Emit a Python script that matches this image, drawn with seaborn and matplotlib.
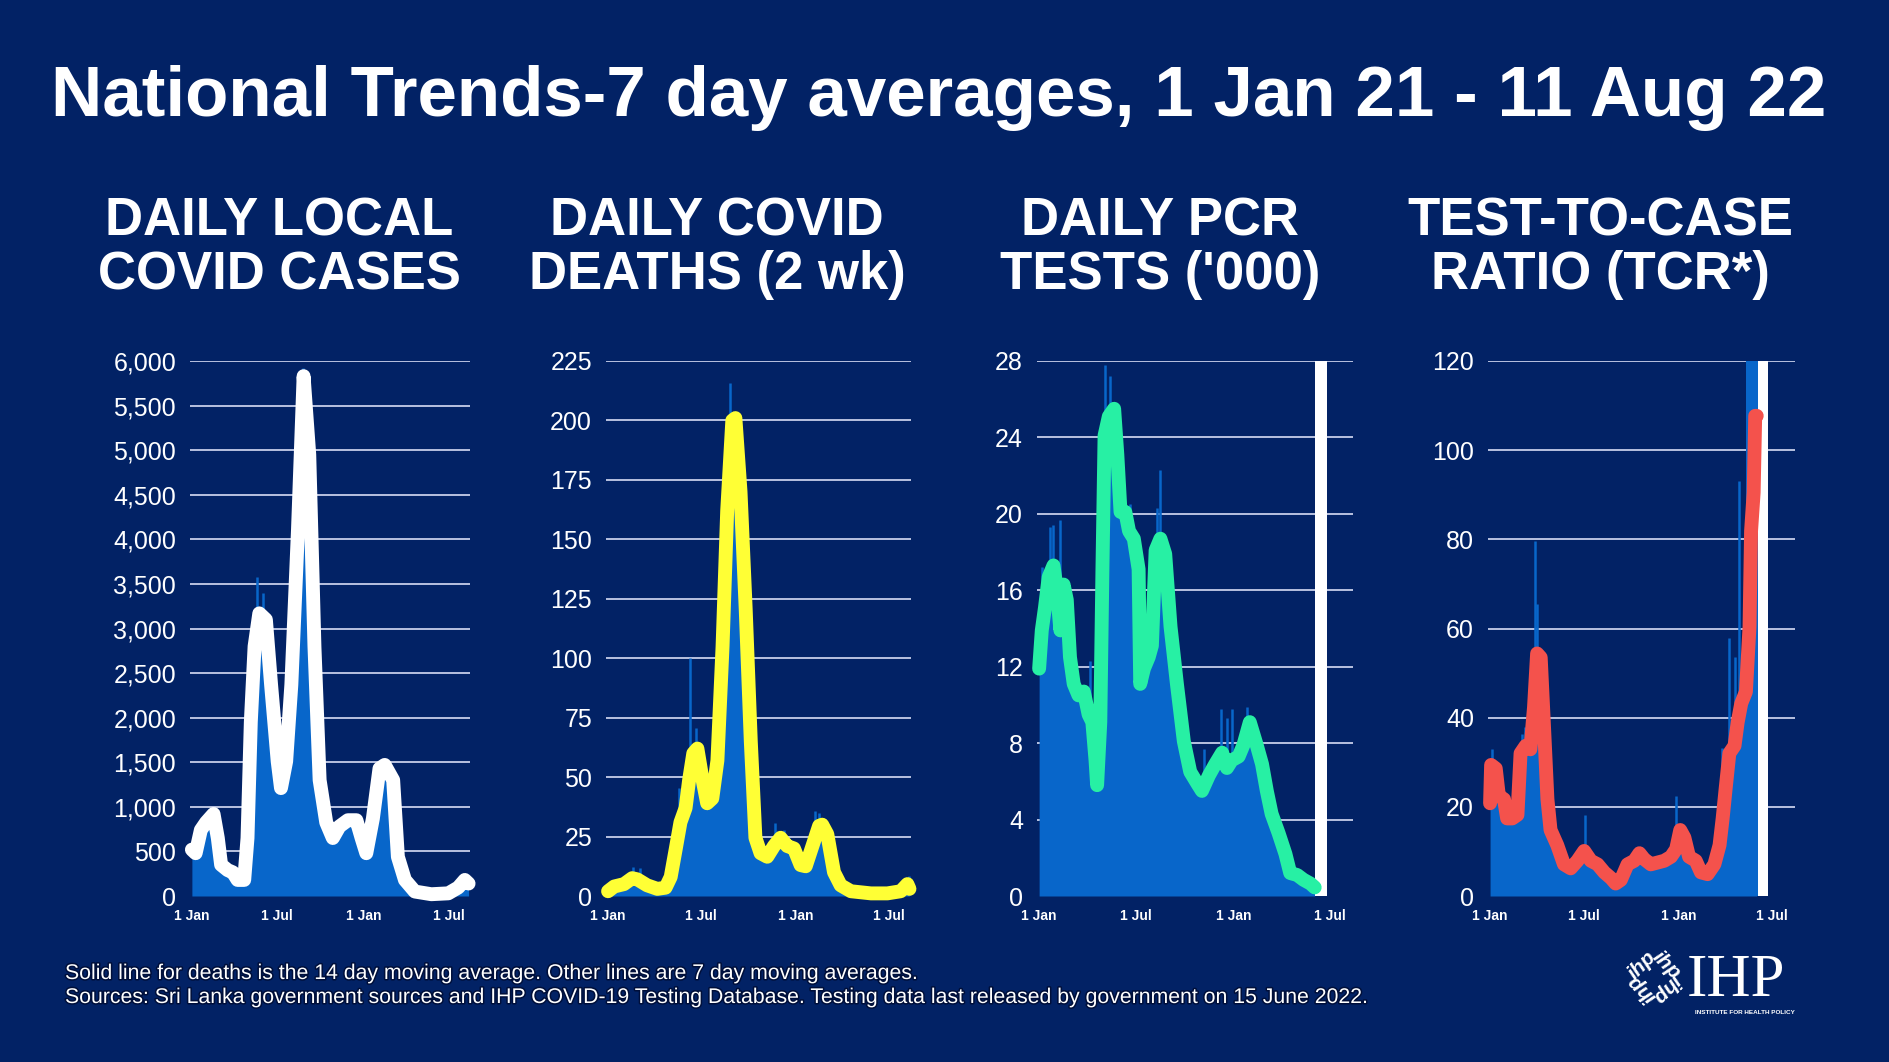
import numpy as np
import pandas as pd
import matplotlib
matplotlib.use("Agg")
import matplotlib.pyplot as plt
import matplotlib.patheffects as pe
from matplotlib.ticker import FuncFormatter
import seaborn as sns

# ------------------------------------------------------------------ data
case_dates = ["2021-01-01","2021-01-09","2021-01-20","2021-01-31","2021-02-16","2021-02-25","2021-03-04",
              "2021-03-18","2021-03-29","2021-04-08","2021-04-22","2021-04-29","2021-05-06","2021-05-14",
              "2021-05-24","2021-06-07","2021-06-18","2021-07-02","2021-07-09","2021-07-20","2021-07-31",
              "2021-08-14","2021-08-26","2021-09-07","2021-09-18","2021-09-29","2021-10-13","2021-10-27",
              "2021-11-10","2021-11-28","2021-12-16","2021-12-27","2022-01-06","2022-01-20","2022-02-03",
              "2022-02-14","2022-03-04","2022-03-14","2022-03-29","2022-04-19","2022-05-24","2022-06-29",
              "2022-07-20","2022-08-03","2022-08-11"]
case_avg = [520, 480, 740, 825, 920, 650, 350, 290, 265, 180, 180, 650, 1950, 2800, 3170, 3100, 2370,
            1510, 1210, 1510, 2370, 4100, 5830, 4950, 2800, 1300, 825, 650, 780, 850, 850, 650, 480, 870,
            1430, 1470, 1300, 440, 180, 50, 20, 30, 95, 180, 140]
case_spike_dates = ["2021-05-19", "2021-05-31", "2021-08-25"]
case_spike_vals = [3580, 3400, 5920]

death_dates = ["2021-01-01","2021-01-13","2021-02-01","2021-02-17","2021-02-27","2021-03-18","2021-04-07",
               "2021-04-23","2021-05-03","2021-05-13","2021-05-22","2021-06-01","2021-06-08","2021-06-16",
               "2021-06-24","2021-07-04","2021-07-13","2021-07-23","2021-08-02","2021-08-12","2021-08-21",
               "2021-08-31","2021-09-06","2021-09-16","2021-09-26","2021-10-06","2021-10-15","2021-10-25",
               "2021-11-07","2021-11-20","2021-12-03","2021-12-16","2021-12-29","2022-01-11","2022-01-21",
               "2022-02-03","2022-02-16","2022-02-22","2022-03-04","2022-03-17","2022-03-30","2022-04-19",
               "2022-05-28","2022-06-29","2022-07-25","2022-08-07","2022-08-11"]
death_avg = [2, 4, 5, 7.5, 7, 4.5, 3, 3.5, 8, 20, 31, 37, 49, 60, 62, 49, 39, 41, 57, 105, 162, 200, 201,
             170, 121, 65, 24.5, 18, 16.5, 21, 24.5, 21, 20, 13, 12.5, 21, 29.5, 30, 26, 10, 4.5, 2, 1.1,
             1.1, 2, 5, 3]
death_spike_dates = ["2021-02-19","2021-03-04","2021-05-20","2021-06-09","2021-06-21","2021-08-26",
                     "2021-11-23","2021-12-09","2022-02-09","2022-02-15","2022-08-10"]
death_spike_vals = [12.4, 11.6, 45.5, 100, 70.5, 215.7, 30.6, 27.7, 35.8, 35, 8.4]

pcr_dates = ["2021-01-01","2021-01-06","2021-01-12","2021-01-19","2021-01-28","2021-02-03","2021-02-10",
             "2021-02-16","2021-02-22","2021-02-28","2021-03-07","2021-03-16","2021-03-26","2021-04-04",
             "2021-04-11","2021-04-17","2021-04-20","2021-04-26","2021-04-30","2021-05-04","2021-05-12",
             "2021-05-22","2021-05-28","2021-06-03","2021-06-12","2021-06-19","2021-06-28","2021-07-07",
             "2021-07-10","2021-07-17","2021-07-26","2021-08-01","2021-08-08","2021-08-17","2021-08-26",
             "2021-09-05","2021-09-17","2021-09-30","2021-10-12","2021-10-25","2021-11-03","2021-11-16",
             "2021-11-28","2021-12-11","2021-12-20","2021-12-29","2022-01-11","2022-01-20","2022-02-01",
             "2022-02-14","2022-02-24","2022-03-05","2022-03-14","2022-03-27","2022-04-09","2022-04-18",
             "2022-05-01","2022-05-13","2022-05-26","2022-06-03"]
pcr_avg = [11.9, 13.9, 15.1, 16.7, 17.3, 16.1, 13.9, 16.3, 15.5, 12.5, 11.1, 10.5, 10.7, 9.5, 9.1, 7.1,
           5.8, 9.1, 17.1, 24.1, 25.1, 25.5, 23.1, 20.1, 20.1, 19.1, 18.7, 17.1, 11.1, 11.9, 12.5, 13.1,
           18.1, 18.7, 17.9, 14.1, 11.1, 8.1, 6.5, 5.9, 5.5, 6.3, 6.9, 7.5, 6.7, 7.1, 7.3, 7.9, 9.1, 7.9,
           6.9, 5.5, 4.3, 3.3, 2.2, 1.2, 1.1, 0.85, 0.65, 0.45]
pcr_spike_dates = ["2021-01-07","2021-01-21","2021-01-27","2021-02-09","2021-04-06","2021-05-05",
                   "2021-05-14","2021-06-21","2021-08-10","2021-08-17","2021-11-07","2021-12-08",
                   "2021-12-20","2021-12-30","2022-01-27"]
pcr_spike_vals = [17.2, 19.3, 19.4, 19.7, 12.3, 27.8, 27.2, 20.5, 20.3, 22.3, 7.7, 9.8, 9.3, 9.8, 9.9]

tcr_dates = ["2021-01-01","2021-01-03","2021-01-12","2021-01-18","2021-01-28","2021-02-03","2021-02-13",
             "2021-02-23","2021-03-01","2021-03-11","2021-03-20","2021-03-27","2021-04-02","2021-04-09",
             "2021-04-15","2021-04-22","2021-04-28","2021-05-11","2021-05-24","2021-06-06","2021-06-19",
             "2021-07-02","2021-07-15","2021-07-28","2021-08-10","2021-08-23","2021-09-01","2021-09-11",
             "2021-09-24","2021-10-07","2021-10-17","2021-10-26","2021-11-08","2021-11-21","2021-12-04",
             "2021-12-17","2021-12-27","2022-01-04","2022-01-12","2022-01-21","2022-02-03","2022-02-13",
             "2022-02-26","2022-03-11","2022-03-21","2022-03-27","2022-04-02","2022-04-09","2022-04-19",
             "2022-04-25","2022-05-02","2022-05-11","2022-05-18","2022-05-21","2022-05-26","2022-05-29",
             "2022-06-01"]
tcr_avg = [20.8, 29.4, 28.6, 22.5, 21.7, 17.4, 17.4, 18.2, 32, 33.7, 32.9, 42.3, 54.4, 53.5, 38.9, 21.7,
           14.8, 11.4, 7.1, 6.2, 7.9, 10.1, 7.9, 7.1, 5.3, 4.0, 2.8, 3.6, 7.1, 7.9, 9.6, 8.3, 7.1, 7.5,
           7.9, 8.8, 10.5, 14.8, 13.1, 8.8, 7.9, 5.3, 4.9, 7.1, 11.4, 17.4, 24.3, 32, 33.7, 38.9, 43.2,
           45.8, 60.4, 81.9, 90.5, 107.7, 107.7]
tcr_spike_dates = ["2021-01-04","2021-03-03","2021-03-09","2021-03-19","2021-03-29","2021-04-02",
                   "2021-07-03","2021-12-27","2022-03-25","2022-04-08","2022-04-19","2022-04-28"]
tcr_spike_vals = [32.9, 36.3, 38, 42.3, 79.7, 65.5, 18.2, 22.5, 33.3, 57.8, 53.5, 93]
tcr_block_dates = ["2022-05-12", "2022-06-03"]
tcr_block_vals = [125, 125]

gap_pcr = ["2022-06-03", "2022-06-26"]
gap_tcr = ["2022-06-03", "2022-06-23"]

tick_dates = ["2021-01-01", "2021-07-01", "2022-01-01", "2022-07-01"]
tick_labels = ["1 Jan", "1 Jul", "1 Jan", "1 Jul"]
x_range = ["2020-12-28", "2022-08-14"]

main_title = "National Trends-7 day averages, 1 Jan 21 - 11 Aug 22"
panel_titles = [("DAILY LOCAL", "COVID CASES"), ("DAILY COVID", "DEATHS (2 wk)"),
                ("DAILY PCR", "TESTS ('000)"), ("TEST-TO-CASE", "RATIO (TCR*)")]
footer1 = "Solid line for deaths is the 14 day moving average. Other lines are 7 day moving averages."
footer2 = ("Sources: Sri Lanka government sources and IHP COVID-19 Testing Database. "
           "Testing data last released by government on 15 June 2022.")

# ------------------------------------------------------------------ style
BG = "#022265"
FILL = "#0866CA"
GRID = "#B8C2E0"

sns.set_theme(style="white", rc={"axes.facecolor": BG, "figure.facecolor": BG})
plt.rcParams["font.family"] = ["Liberation Sans", "DejaVu Sans"]

W, H = 1890, 1062
fig = plt.figure(figsize=(W / 100, H / 100), dpi=100, facecolor=BG)

TOP, BOT = 361, 896


def rect(l, r):
    return [l / W, 1 - BOT / H, (r - l) / W, (BOT - TOP) / H]


def comma(v, _):
    return f"{int(v):,}"


panels = [
    dict(l=190, r=470, d=case_dates, v=case_avg, sd=case_spike_dates, sv=case_spike_vals,
         ymax=6000, step=500, color="#FFFFFF", fmt=comma, tx=279, gap=None),
    dict(l=606, r=911, d=death_dates, v=death_avg, sd=death_spike_dates, sv=death_spike_vals,
         ymax=225, step=25, color="#FFFF35", fmt=None, tx=717, gap=None),
    dict(l=1037, r=1353, d=pcr_dates, v=pcr_avg, sd=pcr_spike_dates, sv=pcr_spike_vals,
         ymax=28, step=4, color="#27F0A4", fmt=None, tx=1160, gap=gap_pcr),
    dict(l=1488, r=1795, d=tcr_dates, v=tcr_avg, sd=tcr_spike_dates, sv=tcr_spike_vals,
         ymax=120, step=20, color="#F4524C", fmt=None, tx=1600, gap=gap_tcr),
]

for i, p in enumerate(panels):
    ax = fig.add_axes(rect(p["l"], p["r"]))
    ax.set_facecolor(BG)
    dates = pd.to_datetime(p["d"])
    vals = np.array(p["v"], dtype=float)

    ax.fill_between(dates, 0, vals, color=FILL, lw=0, zorder=2)
    ax.vlines(pd.to_datetime(p["sd"]), 0, p["sv"], color=FILL, lw=1.8, zorder=2)
    if i == 3:
        ax.fill_between(pd.to_datetime(tcr_block_dates), 0, tcr_block_vals, color=FILL, lw=0, zorder=2)
    if p["gap"] is not None:
        g = pd.to_datetime(p["gap"])
        ax.axvspan(g[0], g[1], color="white", lw=0, zorder=3)

    sns.lineplot(x=dates, y=vals, ax=ax, color=p["color"], lw=10, zorder=5,
                 solid_capstyle="round", solid_joinstyle="round", clip_on=False)

    ax.set_xlim(pd.to_datetime(x_range))
    ax.set_ylim(0, p["ymax"])
    ax.set_yticks(np.arange(0, p["ymax"] + p["step"] / 2, p["step"]))
    if p["fmt"]:
        ax.yaxis.set_major_formatter(FuncFormatter(p["fmt"]))
    ax.set_xticks(pd.to_datetime(tick_dates))
    ax.set_xticklabels(tick_labels, fontweight="bold", fontsize=10)
    ax.grid(False)
    ax.yaxis.grid(True, color=GRID, lw=1.4, zorder=0)
    ax.get_ygridlines()[0].set_visible(False)
    ax.set_axisbelow(True)
    for s in ax.spines.values():
        s.set_visible(False)
    ax.tick_params(axis="y", length=0, pad=10, labelsize=18, labelcolor="white")
    ax.tick_params(axis="x", length=0, pad=9, labelcolor="white")
    ax.set_xlabel("")
    ax.set_ylabel("")

    t1, t2 = panel_titles[i]
    fig.text(p["tx"] / W, 1 - 235 / H, t1, ha="center", va="baseline", color="white",
             fontsize=38, fontweight="bold")
    fig.text(p["tx"] / W, 1 - 289 / H, t2, ha="center", va="baseline", color="white",
             fontsize=38, fontweight="bold")

fig.text(939 / W, 1 - 116 / H, main_title, ha="center", va="baseline", color="white",
         fontsize=51, fontweight="bold")

shadow = [pe.withStroke(linewidth=2.2, foreground="#000F3A")]
fig.text(65 / W, 1 - 979 / H, footer1, ha="left", va="baseline", color="white", fontsize=15.3,
         path_effects=shadow)
fig.text(65 / W, 1 - 1003 / H, footer2, ha="left", va="baseline", color="white", fontsize=15.3,
         path_effects=shadow)

# IHP logo
cx, cy = 1654, 977
for ang, dx, dy in [(45, -12, -12), (-45, 12, -12), (-135, 12, 12), (135, -12, 12)]:
    fig.text((cx + dx) / W, 1 - (cy + dy) / H, "ihp", rotation=ang, ha="center", va="center",
             color="white", fontsize=15, fontweight="bold", fontstyle="italic",
             rotation_mode="anchor")
fig.text(1687 / W, 1 - 996 / H, "IHP", ha="left", va="baseline", color="white", fontsize=44,
         family=["Liberation Serif", "DejaVu Serif"])
fig.text(1745 / W, 1 - 1013 / H, "INSTITUTE FOR HEALTH POLICY", ha="center", va="center",
         color="white", fontsize=4.6, fontweight="bold")

fig.savefig("out.png", dpi=100, facecolor=BG)
